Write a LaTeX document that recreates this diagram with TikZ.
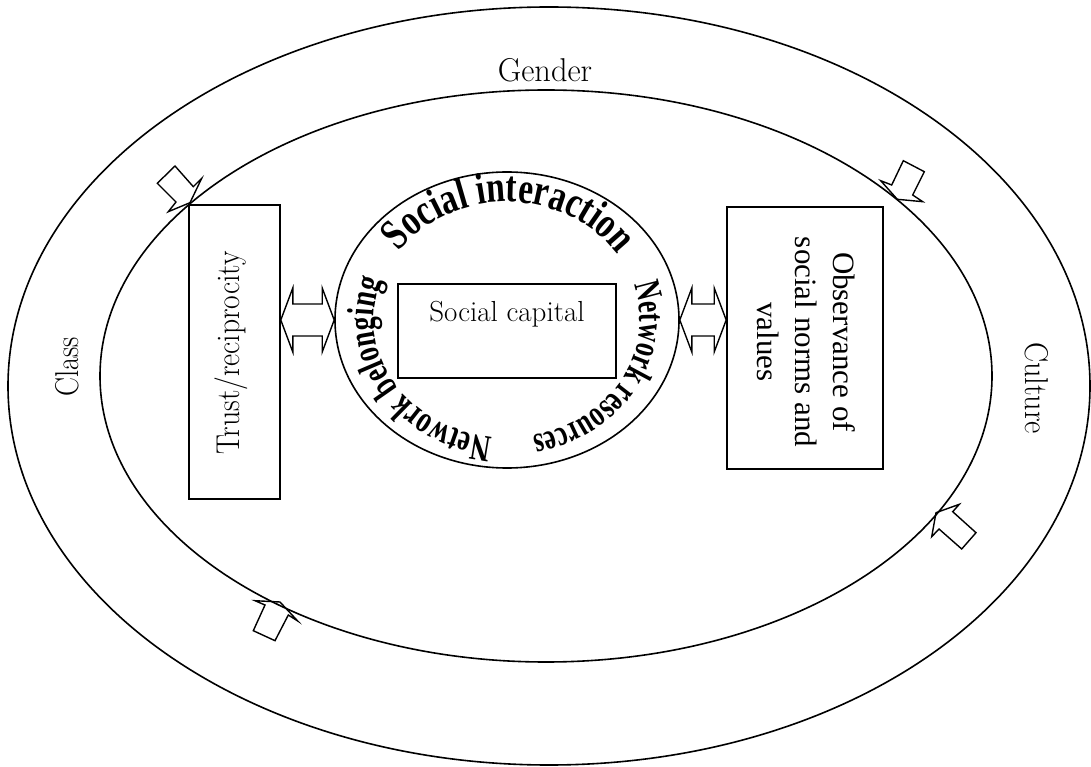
\documentclass[tikz,border=0pt]{standalone}
\usepackage{fontspec}
\newfontfamily\tnr{Liberation Serif}
\newfontfamily\wordartA[FakeStretch=0.76]{Liberation Serif Bold}
\newfontfamily\wordartB[FakeStretch=0.7]{Liberation Serif Bold}
\newfontfamily\wordartC[FakeStretch=0.72]{Liberation Serif Bold}
\usetikzlibrary{shapes.geometric,decorations.text,calc}
\begin{document}
\begin{tikzpicture}[x=1pt,y=1pt,
  outline/.style={draw,line width=1.6pt,inner sep=0pt},
  lbl/.style={inner sep=0pt,font=\fontsize{33pt}{33pt}\selectfont},
  blockarrow/.style={draw,line width=1.4pt,line join=miter},
  arctext/.style={decorate,decoration={text along path,text align=center,text={#1}}}]
\useasboundingbox (0,0) rectangle (1091,766);
% outer and inner ellipses
\node[outline,ellipse,minimum width=1082pt,minimum height=758pt] (outer) at (549,380) {};
\node[outline,ellipse,minimum width=892pt,minimum height=572pt] (inner) at (546,390) {};
% outer labels
\node[lbl] (gender) at (545,696) {\scalebox{0.98}[1]{Gender}};
\node[lbl,rotate=90] (class) at (67,399) {\scalebox{0.86}[1]{Class}};
\node[lbl,rotate=-90] (culture) at (1037,378) {\scalebox{0.91}[1]{Culture}};
% boxes
\node[outline,minimum width=91pt,minimum height=294pt] (trust) at (234.5,414) {};
\node[lbl,rotate=90] (trusttxt) at (231,413) {\scalebox{0.9}[1]{Trust/reciprocity}};
\node[outline,minimum width=156pt,minimum height=262pt] (obs) at (805,428) {};
\node[rotate=-90,align=center,inner sep=0pt,font=\tnr\fontsize{31pt}{38pt}\selectfont] (obstxt) at (806,424) {Observance of\\social norms and\\values};
% central ellipse
\node[outline,ellipse,minimum width=344pt,minimum height=296pt] (circ) at (507,446) {};
\node[outline,minimum width=218pt,minimum height=94pt] (cap) at (507,435) {};
\node[inner sep=0pt,font=\fontsize{29pt}{29pt}\selectfont] (captxt) at (507,452) {Social capital};
% curved texts
\path[arctext={|\wordartA\fontsize{44pt}{44pt}\selectfont|Social interaction}]
  ($(circ.center)+(151:133pt and 118pt)$) arc[start angle=151,end angle=27,x radius=133pt,y radius=118pt];
\path[arctext={|\wordartB\fontsize{37pt}{37pt}\selectfont|Network resources}]
  ($(circ.center)+(21:133pt and 118pt)$) arc[start angle=21,end angle=-82,x radius=133pt,y radius=118pt];
\path[arctext={|\wordartC\fontsize{38pt}{38pt}\selectfont|Network belonging}]
  ($(circ.center)+(267:133pt and 118pt)$) arc[start angle=267,end angle=157,x radius=133pt,y radius=118pt];
% double arrows
\coordinate (la) at (trust.east |- circ.center);
\coordinate (lb) at (circ.west);
\draw[blockarrow] (la) -- ++(12,32) -- ++(0,-16) -- ($(lb)+(-12,16)$) -- ++(0,16) -- (lb)
  -- ++(-12,-32) -- ++(0,16) -- ($(la)+(12,-16)$) -- ++(0,-16) -- cycle;
\coordinate (ra) at (circ.east);
\coordinate (rb) at (obs.west |- circ.center);
\draw[blockarrow] (ra) -- ++(12,32) -- ++(0,-16) -- ($(rb)+(-12,16)$) -- ++(0,16) -- (rb)
  -- ++(-12,-32) -- ++(0,16) -- ($(ra)+(12,-16)$) -- ++(0,-16) -- cycle;
% block arrows pointing at the inner ellipse
\draw[blockarrow] (175,600) -- (157.3,582.7) -- (176,564) -- (168.3,554.3) -- (190,563.3) -- (201.7,587.7) -- (193.3,579.3) -- cycle;
\draw[blockarrow] (903.3,605.3) -- (924.3,594.3) -- (912.7,571) -- (922.7,564.3) -- (897.3,566.7) -- (880.7,585.3) -- (891.7,581) -- cycle;
\draw[blockarrow] (936,253.3) -- (959.3,261.7) -- (952.7,254.3) -- (976,233.3) -- (961.7,217) -- (939,237) -- (931.7,229.3) -- cycle;
\draw[blockarrow] (280,164) -- (297.7,145) -- (288.3,151) -- (275,125.3) -- (253.3,135.3) -- (265,161) -- (255,165.3) -- cycle;
\end{tikzpicture}
\end{document}
